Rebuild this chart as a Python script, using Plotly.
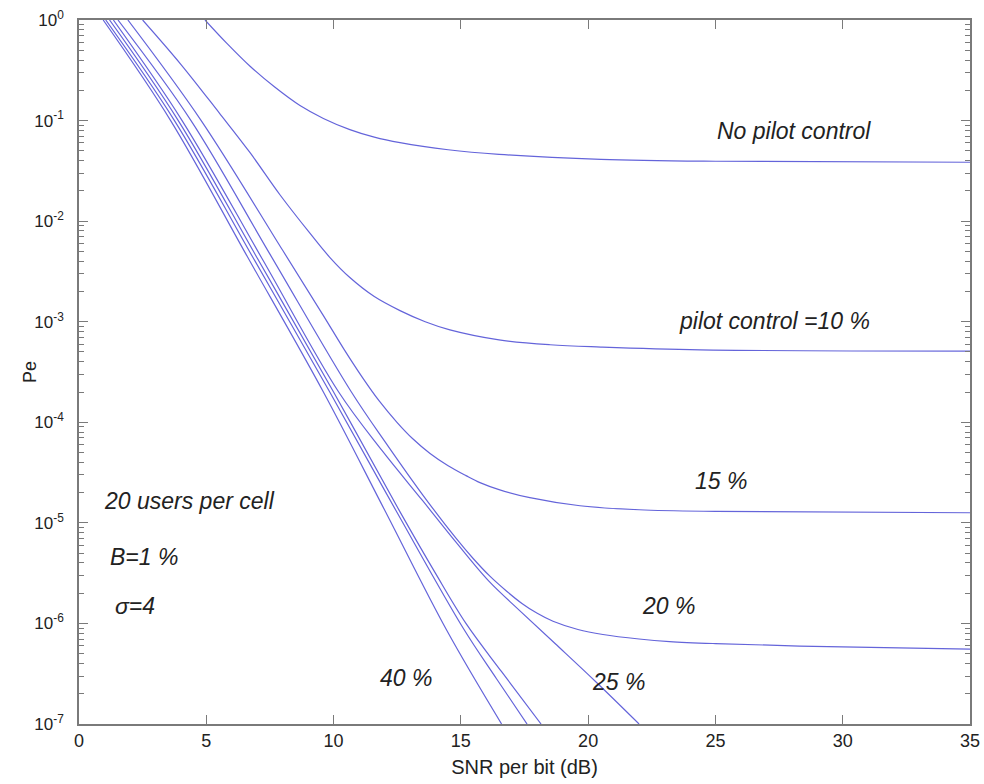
import math
import plotly.graph_objects as go

# ---- data (SNR per bit in dB, Pe) ----
snr_none = [4.95, 5.8, 6.72, 7.7, 8.68, 9.6, 10.64, 11.6, 12.61, 14.5, 16.5, 20.5, 25.0, 35.0]
pe_none = [1.0, 0.589, 0.347, 0.214, 0.141, 0.105, 0.0813, 0.0684, 0.0603, 0.0513, 0.0462, 0.0412, 0.0394, 0.0385]

snr_10 = [2.5, 4.0, 5.5, 6.72, 7.9, 9.07, 9.85, 10.64, 11.6, 12.61, 13.6, 14.57, 16.5, 18.5, 20.5, 24.4, 35.0]
pe_10 = [1.0, 0.363, 0.120, 0.0479, 0.0182, 7.59e-3, 4.37e-3, 2.75e-3, 1.78e-3, 1.29e-3, 1.0e-3, 8.3e-4,
         6.6e-4, 5.9e-4, 5.6e-4, 5.25e-4, 5.1e-4]

snr_15 = [1.92, 4.8, 8.0, 9.6, 10.4, 11.15, 11.8, 12.49, 13.1, 13.79, 14.5, 15.2, 15.75, 16.5, 17.71, 19.68,
          22.0, 25.0, 35.0]
pe_15 = [1.0, 0.1, 5.13e-3, 1.15e-3, 5.37e-4, 2.75e-4, 1.62e-4, 1.0e-4, 6.9e-5, 4.9e-5, 3.7e-5, 2.95e-5,
         2.51e-5, 2.14e-5, 1.78e-5, 1.48e-5, 1.35e-5, 1.30e-5, 1.26e-5]

snr_20 = [1.53, 4.4, 7.5, 10.7, 12.1, 13.5, 14.8, 15.5, 16.14, 16.8, 17.4, 18.0, 18.62, 19.6, 20.58, 22.0,
          23.2, 25.0, 28.3, 35.0]
pe_20 = [1.0, 0.1, 4.7e-3, 2.0e-4, 6.0e-5, 1.9e-5, 7.08e-6, 4.37e-6, 2.95e-6, 2.09e-6, 1.58e-6, 1.26e-6,
         1.05e-6, 8.7e-7, 7.76e-7, 7.0e-7, 6.6e-7, 6.3e-7, 5.96e-7, 5.56e-7]

snr_25 = [1.35, 4.05, 7.2, 10.2, 11.9, 13.5, 14.8, 16.1, 17.3, 18.7, 20.3, 22.0]
pe_25 = [1.0, 0.1, 4.2e-3, 2.0e-4, 5.25e-5, 1.66e-5, 6.46e-6, 2.63e-6, 1.35e-6, 6.31e-7, 2.63e-7, 1.0e-7]

snr_30 = [1.2, 3.9, 7.0, 10.0, 12.6, 14.0, 15.2, 16.6, 18.15]
pe_30 = [1.0, 0.1, 4.3e-3, 2.0e-4, 1.3e-5, 3.16e-6, 1.0e-6, 3.31e-7, 1.0e-7]

snr_35 = [1.05, 3.75, 6.8, 9.85, 12.5, 15.1, 16.4, 17.6]
pe_35 = [1.0, 0.1, 4.5e-3, 2.0e-4, 1.26e-5, 8.9e-7, 2.82e-7, 1.0e-7]

snr_40 = [0.95, 3.6, 6.6, 9.6, 12.0, 14.45, 16.6]
pe_40 = [1.0, 0.1, 4.5e-3, 2.0e-4, 1.35e-5, 8.5e-7, 1.0e-7]

series = [
    ("No pilot control", snr_none, pe_none),
    ("10 %", snr_10, pe_10),
    ("15 %", snr_15, pe_15),
    ("20 %", snr_20, pe_20),
    ("25 %", snr_25, pe_25),
    ("30 %", snr_30, pe_30),
    ("35 %", snr_35, pe_35),
    ("40 %", snr_40, pe_40),
]

x_ticks = [0, 5, 10, 15, 20, 25, 30, 35]
y_tickvals = [1, 1e-1, 1e-2, 1e-3, 1e-4, 1e-5, 1e-6, 1e-7]
y_ticktext = ["10<sup>0</sup>", "10<sup>-1</sup>", "10<sup>-2</sup>", "10<sup>-3</sup>",
              "10<sup>-4</sup>", "10<sup>-5</sup>", "10<sup>-6</sup>", "10<sup>-7</sup>"]

# annotation texts with their data positions (x in dB, y as Pe)
labels = [
    ("No pilot control", 24.98, 0.079),
    ("pilot control =10 %", 23.49, 1.02e-3),
    ("15 %", 24.12, 2.6e-5),
    ("20 %", 22.03, 1.5e-6),
    ("25 %", 20.07, 2.6e-7),
    ("40 %", 11.74, 2.9e-7),
    ("20 users per cell", 0.90, 1.66e-5),
    ("B=1 %", 1.14, 4.6e-6),
    ("σ=4", 1.34, 1.48e-6),
]

LINE = "rgb(100,100,218)"
AXIS = "#7a7a7a"
FONT = "Liberation Sans, Arial, sans-serif"

fig = go.Figure()
for name, xs, ys in series:
    fig.add_trace(go.Scatter(x=xs, y=ys, mode="lines", name=name,
                             line=dict(color=LINE, width=1.2, shape="spline", smoothing=1.0),
                             showlegend=False, hoverinfo="skip"))

for text, x, y in labels:
    fig.add_annotation(x=x, y=math.log10(y), xref="x", yref="y", text="<i>" + text + "</i>",
                       showarrow=False, xanchor="left", yanchor="middle",
                       font=dict(family=FONT, size=23, color="#222222"))

# y-axis title as rotated text placed left of the tick labels
fig.add_annotation(x=0, y=0.5, xref="paper", yref="paper", xshift=-49, text="Pe", textangle=-90,
                   showarrow=False, xanchor="center", yanchor="middle",
                   font=dict(family=FONT, size=18, color="#222222"))

fig.update_layout(
    width=984, height=784,
    margin=dict(l=79, r=14, t=20, b=60),
    paper_bgcolor="white", plot_bgcolor="white",
    font=dict(family=FONT, size=17, color="#222222"),
)
fig.update_xaxes(
    range=[0, 35], tickvals=x_ticks, ticks="inside", ticklen=9, tickcolor=AXIS,
    showline=True, linecolor=AXIS, linewidth=1.5, mirror="ticks", showgrid=False, zeroline=False,
    automargin=False, tickfont=dict(size=18),
    title=dict(text="SNR per bit (dB)", standoff=10, font=dict(size=20)),
)
fig.update_yaxes(
    type="log", range=[-7, 0], tickvals=y_tickvals, ticktext=y_ticktext,
    ticks="inside", ticklen=9, tickcolor=AXIS, ticklabelstandoff=10,
    minor=dict(ticks="inside", ticklen=5, tickcolor=AXIS, dtick="D1", showgrid=False),
    showline=True, linecolor=AXIS, linewidth=1.5, mirror="ticks", showgrid=False, zeroline=False,
    automargin=False,
)

# remove the browser's default 8px body margin so the 984x784 figure fills the window exactly
fig.write_html("out.html", config={"displayModeBar": False},
               post_script="document.body.style.margin='0px';")
